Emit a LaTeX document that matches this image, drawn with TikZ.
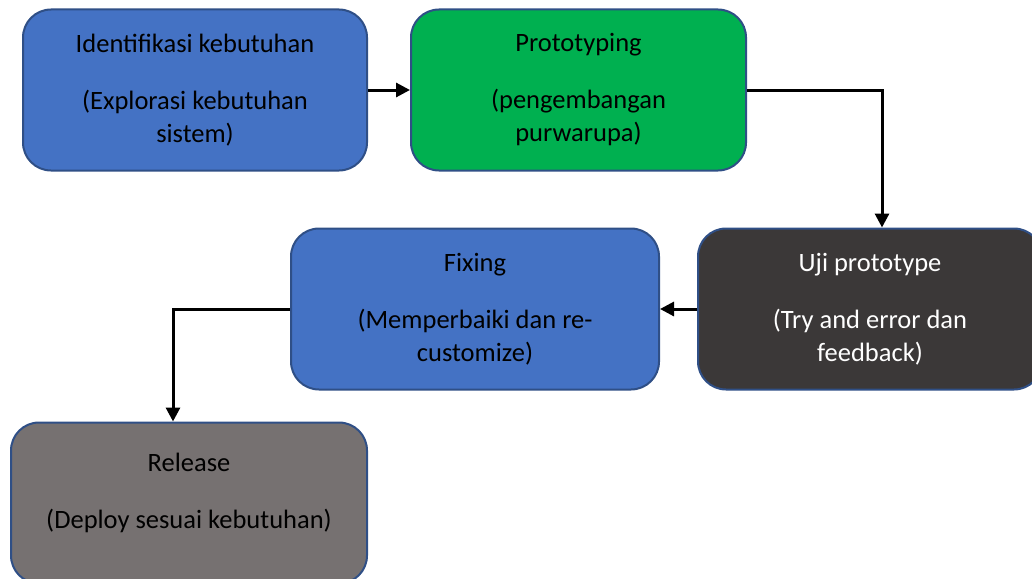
\documentclass[tikz,border=0pt]{standalone}
\usepackage{fontspec}
\setmainfont{Carlito}
\usetikzlibrary{arrows.meta}
\definecolor{cblue}{HTML}{4472C4}
\definecolor{cgreen}{HTML}{00B050}
\definecolor{cdark}{HTML}{3B3838}
\definecolor{cgray}{HTML}{767171}
\definecolor{cborder}{HTML}{2F4F86}
\begin{document}
\begin{tikzpicture}[x=1pt,y=-1pt,
  box/.style={draw=cborder, line width=2pt, rounded corners=28pt, align=center,
    font=\fontsize{26.5}{33}\selectfont, inner sep=0pt},
  conn/.style={line width=3pt, -{Triangle[length=14pt,width=14pt]}}]
\useasboundingbox (0,0) rectangle (1032,578);
\clip (0,0) rectangle (1032,578);
\node[box, fill=cblue, minimum width=344pt, minimum height=161pt] (b1) at (195,90)
  {Identifikasi kebutuhan\\[24pt](Explorasi kebutuhan\\sistem)};
\node[box, fill=cgreen, minimum width=335pt, minimum height=161pt] (b2) at (578.5,90)
  {Prototyping\\[24pt](pengembangan\\purwarupa)};
\node[box, fill=cdark, text=white, minimum width=344pt, minimum height=161pt] (b3) at (870,309)
  {Uji prototype\\[24pt](Try and error dan\\feedback)};
\node[box, fill=cblue, minimum width=368pt, minimum height=161pt] (b4) at (475,309)
  {Fixing\\[24pt](Memperbaiki dan re-\\customize)};
\node[box, fill=cgray, minimum width=356pt, minimum height=161pt] (b5) at (189,503)
  {Release\\[24pt](Deploy sesuai kebutuhan)\\[-18pt]\strut};
\draw[conn] (b1.east) -- (b2.west);
\draw[conn] (b2.east) -| ([xshift=12pt]b3.north);
\draw[conn] (b3.west) -- (b4.east);
\draw[conn] (b4.west) -| ([xshift=-16pt]b5.north);
\end{tikzpicture}
\end{document}
